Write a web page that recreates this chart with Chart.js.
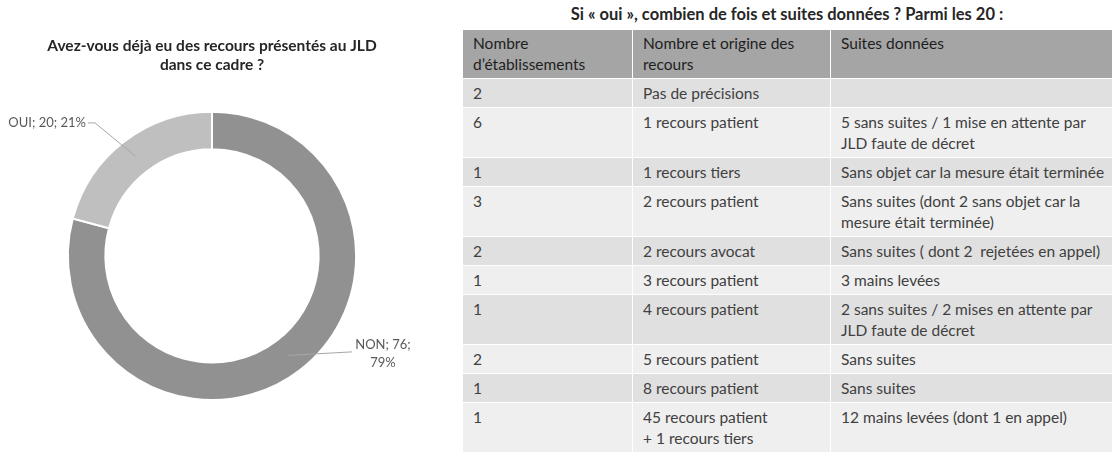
<!DOCTYPE html>
<html lang="fr">
<head>
<meta charset="utf-8">
<script src="https://cdn.jsdelivr.net/npm/chart.js@4.4.1/dist/chart.umd.min.js"></script>
<style>
  body { margin: 0; width: 1120px; height: 453px; background: #fff; overflow: hidden; position: relative; font-family: Lato, sans-serif; }
  #chartBox { position: absolute; left: 0; top: 0; width: 424px; height: 453px; }
  #tableTitle { position: absolute; left: 462px; width: 650px; top: 4px; text-align: center; font-weight: bold; font-size: 16.5px; line-height: 20px; color: #262626; }
  table { position: absolute; left: 462px; top: 29px; width: 650px; border-collapse: collapse; table-layout: fixed; font-size: 15.5px; color: #404040; }
  th, td { padding: 4px 4px 3px 10px; line-height: 21px; text-align: left; vertical-align: top; white-space: pre; border: 1px solid #fff; font-weight: normal; }
  th { background: #a5a5a5; color: #1e1e1e; padding-top: 3px; }
  tbody tr:nth-child(odd) td { background: #e0e0e0; }
  tbody tr:nth-child(even) td { background: #efefef; }
</style>
</head>
<body>
<div id="chartBox"><canvas id="donut" width="424" height="453"></canvas></div>
<div id="tableTitle"></div>
<table id="recours">
  <colgroup><col style="width:170px"><col style="width:198px"><col style="width:282px"></colgroup>
  <thead><tr></tr></thead>
  <tbody></tbody>
</table>
<script>
// donut data
const answers = ['NON', 'OUI'];
const counts = [76, 20];
const sliceColors = ['#919191', '#bfbfbf'];
const chartTitle = ['Avez-vous déjà eu des recours présentés au JLD', 'dans ce cadre ?'];

// table data
const tableTitle = 'Si « oui », combien de fois et suites données ? Parmi les 20 :';
const headers = ['Nombre\nd’établissements', 'Nombre et origine des\nrecours', 'Suites données'];
const nbEtablissements = ['2', '6', '1', '3', '2', '1', '1', '2', '1', '1'];
const origineRecours = ['Pas de précisions', '1 recours patient', '1 recours tiers', '2 recours patient', '2 recours avocat',
  '3 recours patient', '4 recours patient', '5 recours patient', '8 recours patient', '45 recours patient\n+ 1 recours tiers'];
const suitesDonnees = ['', '5 sans suites / 1 mise en attente par\nJLD faute de décret', 'Sans objet car la mesure était terminée',
  'Sans suites (dont 2 sans objet car la\nmesure était terminée)', 'Sans suites ( dont 2  rejetées en appel)', '3 mains levées',
  '2 sans suites / 2 mises en attente par\nJLD faute de décret', 'Sans suites', 'Sans suites', '12 mains levées (dont 1 en appel)'];

// build the table
document.getElementById('tableTitle').textContent = tableTitle;
const headRow = document.querySelector('#recours thead tr');
headers.forEach(h => {
  const th = document.createElement('th');
  th.textContent = h;
  headRow.appendChild(th);
});
const body = document.querySelector('#recours tbody');
for (let i = 0; i < nbEtablissements.length; i++) {
  const tr = document.createElement('tr');
  [nbEtablissements[i], origineRecours[i], suitesDonnees[i]].forEach(v => {
    const td = document.createElement('td');
    td.textContent = v;
    tr.appendChild(td);
  });
  body.appendChild(tr);
}

// where each slice label goes, relative to the donut centre
const labelLayout = [
  { elbow: [140, 96], end: [140, 96], text: [171, 89], align: 'center', wrap: true },
  { elbow: [-117, -133], end: [-124, -133], text: [-126, -133], align: 'right', wrap: false }
];

const sliceLabels = {
  id: 'sliceLabels',
  afterDraw(chart) {
    const ctx = chart.ctx;
    const meta = chart.getDatasetMeta(0);
    const total = counts.reduce((a, b) => a + b, 0);
    ctx.save();
    ctx.font = '13px Lato';
    ctx.fillStyle = '#595959';
    ctx.strokeStyle = '#a6a6a6';
    ctx.lineWidth = 1;
    meta.data.forEach((arc, i) => {
      const mid = arc.tooltipPosition();
      const lay = labelLayout[i];
      const cx = arc.x, cy = arc.y;
      ctx.beginPath();
      ctx.moveTo(mid.x, mid.y);
      ctx.lineTo(cx + lay.elbow[0], cy + lay.elbow[1]);
      ctx.lineTo(cx + lay.end[0], cy + lay.end[1]);
      ctx.stroke();
      const pct = Math.round(counts[i] / total * 100) + '%';
      const lines = lay.wrap ? [answers[i] + '; ' + counts[i] + ';', pct] : [answers[i] + '; ' + counts[i] + '; ' + pct];
      ctx.textAlign = lay.align;
      ctx.textBaseline = 'middle';
      lines.forEach((t, k) => ctx.fillText(t, cx + lay.text[0], cy + lay.text[1] + k * 18));
    });
    ctx.restore();
  }
};

new Chart(document.getElementById('donut'), {
  type: 'doughnut',
  data: {
    labels: answers,
    datasets: [{
      data: counts,
      backgroundColor: sliceColors,
      borderColor: '#ffffff',
      borderWidth: 2
    }]
  },
  options: {
    responsive: false,
    animation: false,
    devicePixelRatio: 1,
    cutout: '74%',
    layout: { padding: { bottom: 52 } },
    plugins: {
      legend: { display: false },
      tooltip: { enabled: false },
      title: {
        display: true,
        text: chartTitle,
        color: '#262626',
        font: { family: 'Lato', size: 15.5, weight: 'bold', lineHeight: 1.25 },
        padding: { top: 36, bottom: 36 }
      }
    }
  },
  plugins: [sliceLabels]
});
</script>
</body>
</html>
